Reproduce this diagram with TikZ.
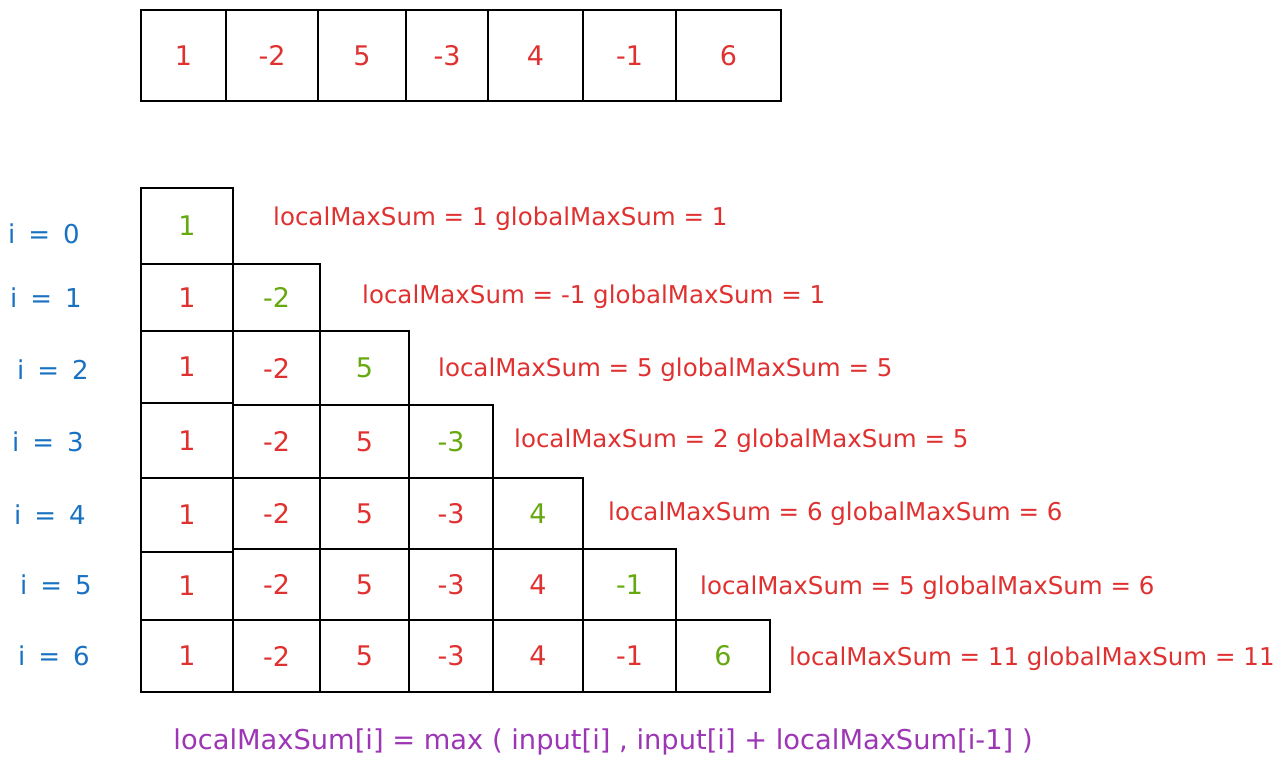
\documentclass[tikz,border=0pt]{standalone}
\usepackage{fontspec}
\setmainfont{DejaVu Sans}
\definecolor{hred}{HTML}{E03131}
\definecolor{hgreen}{HTML}{66A80F}
\definecolor{hblue}{HTML}{1971C2}
\definecolor{hpurple}{HTML}{9C36B5}
\tikzset{
  cellbox/.style={draw=black, line width=1.4pt, inner sep=0pt, outer sep=0pt, font=\fontsize{27}{30}\selectfont},
  steplabel/.style={text=hred, anchor=west, inner sep=0pt, font=\fontsize{24.5}{28}\selectfont},
  idxlabel/.style={text=hblue, inner sep=0pt, font=\fontsize{26}{28}\selectfont},
  formula/.style={text=hpurple, inner sep=0pt, font=\fontsize{27.3}{30}\selectfont}
}
\newcommand\mycell[7]{\node[cellbox, text=#7, minimum width={(#4-#2)*1pt}, minimum height={(#5-#3)*1pt}] (#1) at ({(#2+#4)/2},{(#3+#5)/2}) {#6};}
\newcommand\myval[1]{\ifcase#1 1\or -2\or 5\or -3\or 4\or -1\or 6\fi}
\newcommand\ilab[1]{i\hspace{0.5em}=\hspace{0.5em}#1}
\begin{document}
\begin{tikzpicture}[x=1pt,y=-1pt]
\useasboundingbox (0,0) rectangle (1288,769);
% top input array
\foreach \c in {0,...,6}{
  \pgfmathsetmacro\xa{{141,226,318,406,488,583,676,781}[\c]}
  \pgfmathsetmacro\xb{{141,226,318,406,488,583,676,781}[\c+1]}
  \mycell{t\c}{\xa}{10}{\xb}{101}{\myval{\c}}{hred}
}
% rows
\foreach \r in {0,...,6}{
  \pgfmathsetmacro\ya{{188,264,331,403,478,552,620}[\r]}
  \pgfmathsetmacro\yb{{264,331,403,478,552,620,692}[\r]}
  \ifnum\r=0 \def\col{hgreen}\else\def\col{hred}\fi
  \mycell{c\r-0}{141}{\ya}{233}{\yb}{1}{\col}
  \ifnum\r>0
    \pgfmathsetmacro\yc{{188,264,331,405,478,549,620}[\r]}
    \pgfmathsetmacro\yd{{264,331,405,478,549,620,692}[\r]}
    \foreach \c in {1,...,\r}{
      \pgfmathsetmacro\xa{{141,233,320,409,493,583,676,770}[\c]}
      \pgfmathsetmacro\xb{{141,233,320,409,493,583,676,770}[\c+1]}
      \ifnum\c=\r \def\colb{hgreen}\else\def\colb{hred}\fi
      \mycell{c\r-\c}{\xa}{\yc}{\xb}{\yd}{\myval{\c}}{\colb}
    }
  \fi
}
% index labels
\node[idxlabel] (i0) at (44,234) {\ilab{0}};
\node[idxlabel] (i1) at (46,298) {\ilab{1}};
\node[idxlabel] (i2) at (53,370) {\ilab{2}};
\node[idxlabel] (i3) at (48,442) {\ilab{3}};
\node[idxlabel] (i4) at (50,515) {\ilab{4}};
\node[idxlabel] (i5) at (56,585) {\ilab{5}};
\node[idxlabel] (i6) at (54,656) {\ilab{6}};
% step labels
\node[steplabel] (l0) at (273,219) {localMaxSum = 1 globalMaxSum = 1};
\node[steplabel] (l1) at (362,297) {localMaxSum = -1 globalMaxSum = 1};
\node[steplabel] (l2) at (438,370) {localMaxSum = 5 globalMaxSum = 5};
\node[steplabel] (l3) at (514,441) {localMaxSum = 2 globalMaxSum = 5};
\node[steplabel] (l4) at (608,514) {localMaxSum = 6 globalMaxSum = 6};
\node[steplabel] (l5) at (700,588) {localMaxSum = 5 globalMaxSum = 6};
\node[steplabel] (l6) at (789,659) {localMaxSum = 11 globalMaxSum = 11};
% formula
\node[formula] (f) at (603,742) {localMaxSum[i] = max ( input[i] , input[i] + localMaxSum[i-1] )};
\end{tikzpicture}
\end{document}
